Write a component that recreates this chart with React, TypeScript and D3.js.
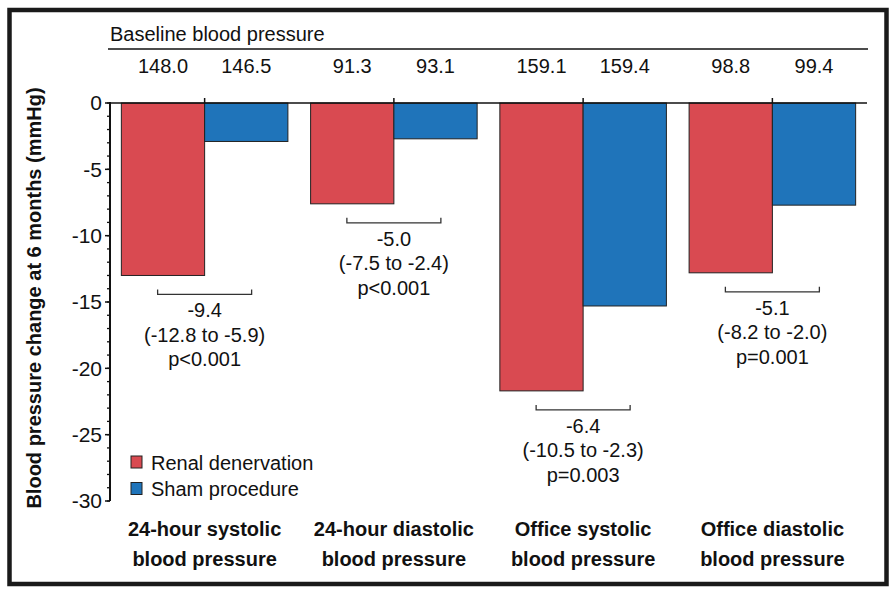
import * as React from 'react';
import * as d3 from 'd3';

// chart data
const categories = ['24h-sys', '24h-dia', 'office-sys', 'office-dia'];
const categoryLine1 = ['24-hour systolic', '24-hour diastolic', 'Office systolic', 'Office diastolic'];
const categoryLine2 = ['blood pressure', 'blood pressure', 'blood pressure', 'blood pressure'];
const seriesNames = ['Renal denervation', 'Sham procedure'];
const renalChange = [-13.0, -7.6, -21.7, -12.8];
const shamChange = [-2.9, -2.7, -15.3, -7.7];
const renalBaseline = ['148.0', '91.3', '159.1', '98.8'];
const shamBaseline = ['146.5', '93.1', '159.4', '99.4'];
const diffValues = ['-9.4', '-5.0', '-6.4', '-5.1'];
const diffCI = ['(-12.8 to -5.9)', '(-7.5 to -2.4)', '(-10.5 to -2.3)', '(-8.2 to -2.0)'];
const pValues = ['p<0.001', 'p<0.001', 'p=0.003', 'p=0.001'];
const yTicks = [0, -5, -10, -15, -20, -25, -30];

const colors = ['#d94a51', '#1f74ba'];
const font = '"Liberation Sans", Arial, Helvetica, sans-serif';

export default function App() {
  const width = 893, height = 596;
  const left = 110, right = 867, top = 103, bottom = 501;

  const x0 = d3.scaleBand<string>().domain(categories).range([left, right])
    .paddingInner(0.12).paddingOuter(0.06);
  const x1 = d3.scaleBand<string>().domain(seriesNames).range([0, x0.bandwidth()]);
  const y = d3.scaleLinear().domain([0, -30]).range([top, bottom]);

  const series = [renalChange, shamChange];
  const baselines = [renalBaseline, shamBaseline];
  const minorTicks = d3.range(-30, 1, 1);

  return (
    <svg width={width} height={height} style={{ position: 'absolute', left: 0, top: 0, background: '#fff' }}
      fontFamily={font}>
      <rect x={9.5} y={10} width={877} height={574} fill="none" stroke="#1a1a1a" strokeWidth={4.5} />

      {/* baseline header */}
      <text x={left} y={41} fontSize={20} fill="#111">Baseline blood pressure</text>
      <line x1={left - 2} x2={right + 1} y1={49} y2={49} stroke="#111" strokeWidth={1.6} />
      {categories.map((c, i) => seriesNames.map((s, j) => (
        <text key={c + s} x={x0(c)! + x1(s)! + x1.bandwidth() / 2} y={73} fontSize={20}
          textAnchor="middle" fill="#111">{baselines[j][i]}</text>
      )))}

      {/* bars */}
      {categories.map((c, i) => seriesNames.map((s, j) => {
        const v = series[j][i];
        return (
          <rect key={'b' + c + s} x={x0(c)! + x1(s)!} y={y(0)} width={x1.bandwidth()}
            height={y(v) - y(0)} fill={colors[j]} stroke="#222" strokeWidth={1} />
        );
      }))}

      {/* x axis at zero with upward ticks at group centres */}
      <line x1={left} x2={right} y1={y(0)} y2={y(0)} stroke="#111" strokeWidth={1.6} />
      {categories.map(c => {
        const cx = x0(c)! + x0.bandwidth() / 2;
        return <line key={'t' + c} x1={cx} x2={cx} y1={y(0) - 5} y2={y(0)} stroke="#111" strokeWidth={1.5} />;
      })}

      {/* y axis */}
      <line x1={left} x2={left} y1={y(0) - 1} y2={y(-30)} stroke="#111" strokeWidth={2} />
      {minorTicks.map(t => (
        <line key={'m' + t} x1={left - 3} x2={left} y1={y(t)} y2={y(t)} stroke="#111" strokeWidth={1.3} />
      ))}
      {yTicks.map(t => (
        <g key={'y' + t}>
          <line x1={left - 5} x2={left} y1={y(t)} y2={y(t)} stroke="#111" strokeWidth={1.5} />
          <text x={left - 8} y={y(t)} dy="0.35em" fontSize={21} textAnchor="end" fill="#111">{t}</text>
        </g>
      ))}
      <text transform={`translate(41,298) rotate(-90)`} fontSize={20} fontWeight="bold"
        textAnchor="middle" fill="#111">Blood pressure change at 6 months (mmHg)</text>

      {/* difference brackets and annotations */}
      {categories.map((c, i) => {
        const cx = x0(c)! + x0.bandwidth() / 2;
        const by = y(Math.min(renalChange[i], shamChange[i])) + 19;
        const bx1 = cx - 47, bx2 = cx + 47;
        return (
          <g key={'d' + c}>
            <path d={`M${bx1},${by - 5}V${by}H${bx2}V${by - 5}`} fill="none" stroke="#333" strokeWidth={1.3} />
            <text x={cx} y={by + 23} fontSize={20} textAnchor="middle" fill="#111">{diffValues[i]}</text>
            <text x={cx} y={by + 47.5} fontSize={20} textAnchor="middle" fill="#111">{diffCI[i]}</text>
            <text x={cx} y={by + 72} fontSize={20} textAnchor="middle" fill="#111">{pValues[i]}</text>
          </g>
        );
      })}

      {/* legend */}
      {seriesNames.map((s, j) => (
        <g key={'l' + s} transform={`translate(131,${456 + j * 26.5})`}>
          <rect x={0} y={0} width={11} height={12} fill={colors[j]} stroke="#222" strokeWidth={1} />
          <text x={20} y={13.5} fontSize={20} fill="#111">{s}</text>
        </g>
      ))}

      {/* category labels */}
      {categories.map((c, i) => {
        const cx = x0(c)! + x0.bandwidth() / 2;
        return (
          <g key={'c' + c}>
            <text x={cx} y={536} fontSize={20} fontWeight="bold" textAnchor="middle" fill="#111">{categoryLine1[i]}</text>
            <text x={cx} y={566} fontSize={20} fontWeight="bold" textAnchor="middle" fill="#111">{categoryLine2[i]}</text>
          </g>
        );
      })}
    </svg>
  );
}
